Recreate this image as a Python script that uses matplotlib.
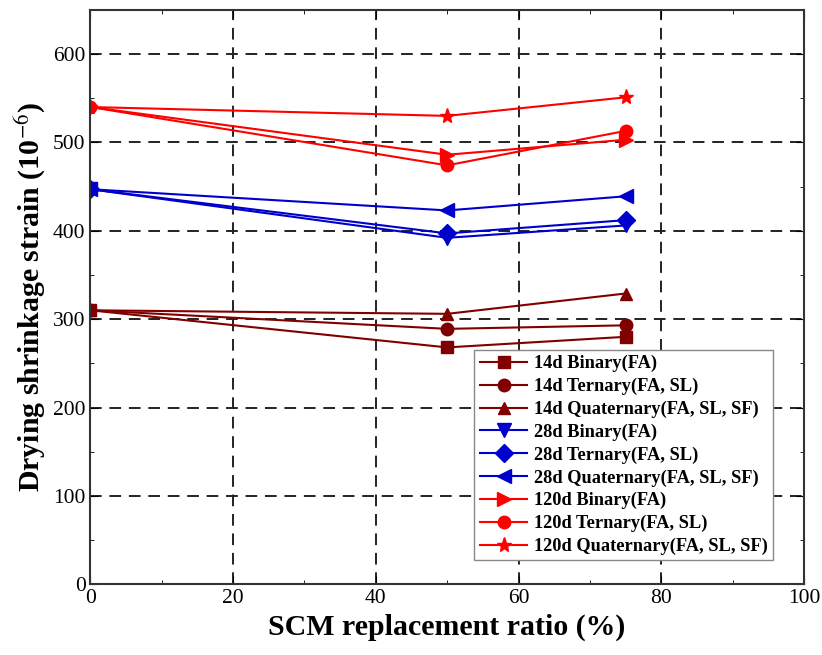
import matplotlib
matplotlib.use('Agg')
import matplotlib.pyplot as plt
from matplotlib.ticker import MultipleLocator

# SCM replacement ratio (%)
ratio = [0, 50, 75]

# drying shrinkage strain (10^-6)
d14_binary = [310, 268, 280]
d14_ternary = [310, 289, 293]
d14_quaternary = [310, 306, 329]
d28_binary = [447, 392, 406]
d28_ternary = [447, 397, 412]
d28_quaternary = [447, 423, 439]
d120_binary = [540, 486, 503]
d120_ternary = [540, 474, 513]
d120_quaternary = [540, 530, 551]

labels = ['14d Binary(FA)', '14d Ternary(FA, SL)', '14d Quaternary(FA, SL, SF)',
          '28d Binary(FA)', '28d Ternary(FA, SL)', '28d Quaternary(FA, SL, SF)',
          '120d Binary(FA)', '120d Ternary(FA, SL)', '120d Quaternary(FA, SL, SF)']

plt.rcParams['font.family'] = ['Liberation Serif', 'DejaVu Serif']
plt.rcParams['mathtext.fontset'] = 'stix'

fig, ax = plt.subplots(figsize=(8.22, 6.55), dpi=100)
fig.subplots_adjust(left=0.11, right=0.978, top=0.985, bottom=0.108)

dark = '#800000'
blue = '#0000cc'
red = '#ff0000'

series = [d14_binary, d14_ternary, d14_quaternary,
          d28_binary, d28_ternary, d28_quaternary,
          d120_binary, d120_ternary, d120_quaternary]
colors = [dark] * 3 + [blue] * 3 + [red] * 3
markers = ['s', 'o', '^', 'v', 'D', '<', '>', 'o', '*']
sizes = [8, 9, 9, 10, 9, 10, 10, 9, 11]

for y, c, m, s, lab in zip(series, colors, markers, sizes, labels):
    ax.plot(ratio, y, color=c, marker=m, markersize=s, linewidth=1.5, label=lab)

ax.set_xlim(0, 100)
ax.set_ylim(0, 650)
ax.xaxis.set_major_locator(MultipleLocator(20))
ax.xaxis.set_minor_locator(MultipleLocator(10))
ax.yaxis.set_major_locator(MultipleLocator(100))
ax.yaxis.set_minor_locator(MultipleLocator(50))
ax.tick_params(which='both', direction='in', top=True, right=True, labelsize=15.5)
ax.tick_params(which='major', length=6)
ax.tick_params(which='minor', length=3)
ax.grid(True, which='major', color='#222222', linestyle=(0, (6, 4)), linewidth=1.4)
for sp in ax.spines.values():
    sp.set_linewidth(1.5)
    sp.set_color('#333333')

ax.set_xlabel('SCM replacement ratio (%)', fontsize=21.5, fontweight='bold', labelpad=4)
ax.set_ylabel('Drying shrinkage strain (10$^{-6}$)', fontsize=21.5, fontweight='bold', labelpad=4)

leg = ax.legend(loc='lower right', bbox_to_anchor=(0.962, 0.035), fancybox=False,
                edgecolor='#888888', framealpha=1, handlelength=2.6,
                handletextpad=0.35, labelspacing=0.3, borderpad=0.3,
                borderaxespad=0.2, prop={'weight': 'bold', 'size': 13.2})

plt.savefig('out.png', dpi=100)
